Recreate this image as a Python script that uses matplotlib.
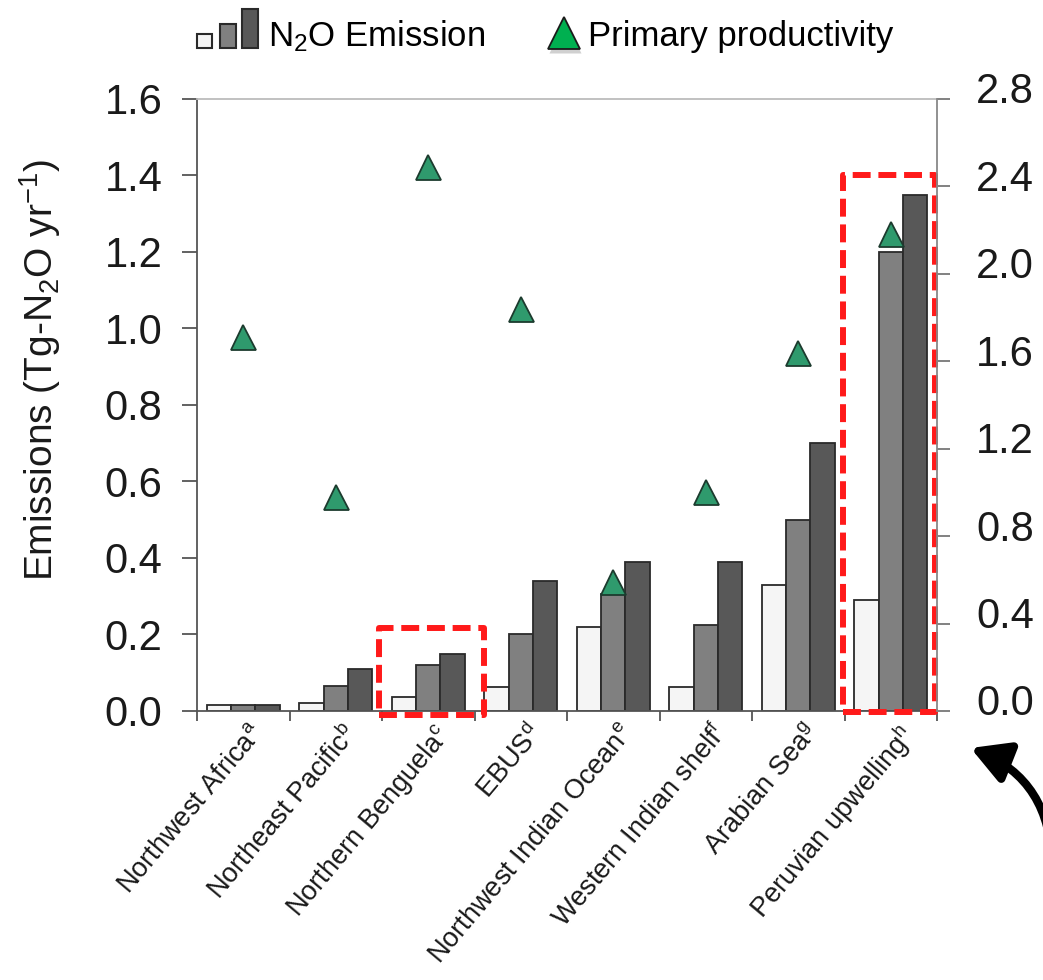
import numpy as np
import matplotlib
matplotlib.use("Agg")
from matplotlib import pyplot as plt
from matplotlib import patches as mpatches
from matplotlib import transforms as mtransforms
from matplotlib.lines import Line2D

plt.rcParams["font.family"] = "Liberation Sans"
plt.rcParams["mathtext.fontset"] = "custom"
plt.rcParams["mathtext.rm"] = "Liberation Sans"
plt.rcParams["mathtext.it"] = "Liberation Sans:italic"

# Upwelling regions and their source references
regions = ["Northwest Africa", "Northeast Pacific", "Northern Benguela", "EBUS",
           "Northwest Indian Ocean", "Western Indian shelf", "Arabian Sea",
           "Peruvian upwelling"]
refs = ["a", "b", "c", "d", "e", "f", "g", "h"]

# N2O emission estimates (Tg-N2O yr-1): low / mid / high
n2o_low = [0.015, 0.02, 0.037, 0.062, 0.22, 0.062, 0.33, 0.29]
n2o_mid = [0.015, 0.065, 0.12, 0.20, 0.305, 0.225, 0.50, 1.20]
n2o_high = [0.015, 0.11, 0.148, 0.34, 0.39, 0.39, 0.70, 1.35]

# Primary productivity (right axis)
productivity = [1.71, 0.98, 2.49, 1.84, 0.59, 1.00, 1.64, 2.18]

left_ticks = [0.0, 0.2, 0.4, 0.6, 0.8, 1.0, 1.2, 1.4, 1.6]
right_ticks = [0.0, 0.4, 0.8, 1.2, 1.6, 2.0, 2.4, 2.8]

bar_colors = ["#f5f5f5", "#808080", "#585858"]
edge = "#2a2a2a"
tri_face = "#2f9a6d"
tri_edge = "#1c3b2e"

fig = plt.figure(figsize=(10.43, 9.8), dpi=100)
ax = fig.add_axes([0.1889, 0.2745, 0.7095, 0.6245])

x = np.arange(len(regions))
w = 0.263
for off, vals, col in zip((-w, 0, w), (n2o_low, n2o_mid, n2o_high), bar_colors):
    ax.bar(x + off, vals, w, color=col, edgecolor=edge, linewidth=1.3, zorder=2)

ax.set_xlim(-0.5, len(regions) - 0.5)
ax.set_ylim(0, 1.6)
ax.set_yticks(left_ticks)
ax.set_yticklabels([f"{t:.1f}" for t in left_ticks])
ax.set_xticks(np.arange(-0.5, len(regions), 1.0))
ax.set_xticklabels([])
ax.tick_params(axis="y", direction="out", length=11, width=1.3, color="#555555",
               labelsize=30, pad=14, labelcolor="#1a1a1a")
ax.tick_params(axis="x", direction="out", length=7, width=1.3, color="#555555")
ax.spines["top"].set_color("#bcbcbc")
ax.spines["left"].set_color("#555555")
ax.spines["bottom"].set_color("#555555")
ax.spines["right"].set_visible(False)
for s in ("left", "bottom", "top"):
    ax.spines[s].set_linewidth(1.3)

for i, (name, r) in enumerate(zip(regions, refs)):
    ax.text(i + 0.06, -0.014, f"{name}$^{{\\mathrm{{{r}}}}}$",
            transform=ax.get_xaxis_transform(), rotation=50,
            rotation_mode="anchor", ha="right", va="top", fontsize=19.5,
            color="#1a1a1a")

ax2 = ax.twinx()
ax2.set_ylim(0, 2.8)
ax2.set_yticks(right_ticks)
ax2.set_yticklabels([f"{t:.1f}" for t in right_ticks])
ax2.tick_params(axis="y", direction="out", length=9, width=1.3, color="#777777",
                labelsize=30, pad=19, labelcolor="#1a1a1a")
lift = mtransforms.ScaledTranslation(0, 8 / 72, fig.dpi_scale_trans)
for lbl in ax2.get_yticklabels():
    lbl.set_transform(lbl.get_transform() + lift)
for s in ("left", "bottom", "top"):
    ax2.spines[s].set_visible(False)
ax2.spines["right"].set_color("#888888")
ax2.spines["right"].set_linewidth(1.3)
ax2.plot(x, productivity, linestyle="none", marker="^", ms=18,
         mfc=tri_face, mec=tri_edge, mew=1.3, zorder=3)

# highlight boxes around Northern Benguela and Peruvian upwelling
for x0, y0, bw, bh in ((1.47, -0.01, 1.13, 0.227), (6.48, -0.003, 1.0, 1.403)):
    ax.add_patch(mpatches.Rectangle((x0, y0), bw, bh, fill=False, edgecolor="#ff1a1a",
                                    linewidth=4.3, linestyle=(0, (3.0, 1.3)),
                                    joinstyle="round", clip_on=False, zorder=5))

fig.text(40 / 1043, 1 - 370 / 980, "Emissions (Tg-N$_2$O yr$^{-1}$)", rotation=90,
         ha="center", va="center", fontsize=28, color="#1a1a1a")

# legend drawn on the figure above the axes
W, H = 1043.0, 980.0
for (x0, x1, y0, y1), col in zip(((197, 212, 34, 48), (220, 236, 24, 48), (242, 258, 9, 48)),
                                 bar_colors):
    fig.add_artist(mpatches.Rectangle((x0 / W, 1 - y1 / H), (x1 - x0) / W, (y1 - y0) / H,
                                      transform=fig.transFigure, facecolor=col,
                                      edgecolor=edge, linewidth=1.5))
fig.text(268 / W, 1 - 46 / H, "N$_2$O Emission", fontsize=25, va="baseline", ha="left")
fig.add_artist(Line2D([565 / W], [1 - 37 / H], transform=fig.transFigure, marker="^",
                      ms=23, mfc="#7a7a7a", mec="none", alpha=0.35, linestyle="none"))
fig.add_artist(Line2D([563.5 / W], [1 - 33 / H], transform=fig.transFigure, marker="^",
                      ms=23, mfc="#00b050", mec="#1a1a1a", mew=1.3, linestyle="none"))
fig.text(588 / W, 1 - 46 / H, "Primary productivity", fontsize=25, va="baseline", ha="left")

# curved pointer at the lower right
fig.add_artist(mpatches.FancyArrowPatch(
    (1052 / W, 1 - 870 / H), (968 / W, 1 - 747 / H), transform=fig.transFigure,
    connectionstyle="arc3,rad=0.35",
    arrowstyle="-|>,head_length=0.9,head_width=0.5", mutation_scale=25,
    linewidth=6, color="black"))

fig.savefig("out.png", dpi=100)
